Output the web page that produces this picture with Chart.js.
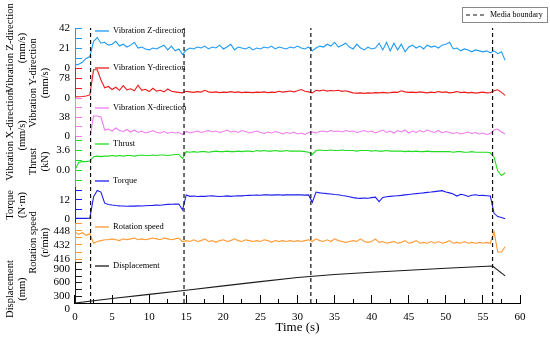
<!DOCTYPE html>
<html lang="en">
<head>
<meta charset="UTF-8">
<title>Drilling signals vs time</title>
<style>
  html, body { margin: 0; padding: 0; background: #fff; }
</style>
</head>
<body>
<canvas id="chart" width="550" height="340"></canvas>
<script src="https://cdn.jsdelivr.net/npm/chart.js"></script>
<script>
// sample times (s) shared by the signal series
const time = [
  0, 0.5, 1, 1.5, 2, 2.5, 3, 3.5, 4, 4.5,
  5, 5.5, 6, 6.5, 7, 7.5, 8, 8.5, 9, 9.5,
  10, 10.5, 11, 11.5, 12, 12.5, 13, 13.5, 14, 14.5,
  15, 15.5, 16, 16.5, 17, 17.5, 18, 18.5, 19, 19.5,
  20, 20.5, 21, 21.5, 22, 22.5, 23, 23.5, 24, 24.5,
  25, 25.5, 26, 26.5, 27, 27.5, 28, 28.5, 29, 29.5,
  30, 30.5, 31, 31.5, 32, 32.5, 33, 33.5, 34, 34.5,
  35, 35.5, 36, 36.5, 37, 37.5, 38, 38.5, 39, 39.5,
  40, 40.5, 41, 41.5, 42, 42.5, 43, 43.5, 44, 44.5,
  45, 45.5, 46, 46.5, 47, 47.5, 48, 48.5, 49, 49.5,
  50, 50.5, 51, 51.5, 52, 52.5, 53, 53.5, 54, 54.5,
  55, 55.5, 56, 56.5, 57, 57.5, 58
];

// vibration Z (mm/s)
const vibZ = [
  3, 4, 6, 10, 12, 28, 32, 26, 27, 24,
  25, 28, 23, 25, 22, 24, 27, 21, 22, 20,
  19, 21, 20, 22, 24, 19, 23, 18, 20, 14,
  19, 21, 20, 22, 21, 23, 20, 22, 21, 24,
  20, 22, 25, 19, 22, 21, 20, 22, 19, 21,
  20, 22, 21, 23, 20, 22, 21, 20, 22, 21,
  23, 21, 20, 22, 18, 21, 23, 22, 25, 23,
  27, 22, 24, 26, 22, 20, 25, 21, 19, 22,
  20, 21, 26, 19, 27, 18, 26, 19, 25, 17,
  22, 24, 21, 23, 20, 24, 22, 23, 21, 24,
  25, 27, 20, 21, 18, 20, 19, 17, 19, 18,
  17, 18, 16, 18, 15, 17, 8
];

// vibration Y (mm/s)
const vibY = [
  5, 5, 6, 8, 12, 110, 110, 70, 40, 45,
  33, 42, 30, 48, 32, 36, 28, 50, 30, 34,
  25, 38, 27, 30, 24, 35, 26, 24, 22, 20,
  26, 24, 22, 25, 23, 30, 24, 22, 24, 21,
  23, 22, 25, 22, 24, 21, 23, 22, 21, 23,
  22, 24, 21, 23, 22, 26, 23, 25, 27, 24,
  28, 33, 26, 24, 20, 30, 28, 31, 27, 29,
  28, 30, 26, 28, 24, 20, 19, 20, 18, 20,
  19, 21, 20, 22, 20, 21, 23, 22, 28, 24,
  22, 23, 21, 24, 22, 20, 23, 21, 25, 22,
  24, 20, 22, 25, 21, 23, 20, 22, 19, 21,
  23, 20, 21, 28, 32, 22, 10
];

// vibration X (mm/s)
const vibX = [
  -12, -11, -9, -7, -4, 40, 40, 38, 12, 14,
  10, 16, 11, 9, 13, 8, 12, 7, 10, 6,
  8, 11, 7, 6, 9, 5, 8, 6, 7, 3,
  9, 6, 8, 10, 7, 9, 11, 8, 10, 7,
  9, 12, 8, 10, 7, 11, 9, 6, 8, 10,
  7, 5, 8, 6, 9, 7, 4, 7, 5, 8,
  4, 6, 3, 7, 8, 6, 9, 10, 8, 11,
  9, 10, 8, 11, 9, 10, 7, 9, 11, 8,
  10, 6, 9, 12, 7, 10, 6, 11, 8, 12,
  6, 10, 7, 11, 8, 12, 9, 7, 11, 6,
  9, 7, 5, 7, 4, 6, 8, 5, 7, 4,
  6, 3, 5, 12, 14, 8, 4
];

// thrust (kN)
const thrust = [
  0, 1.4, 1.5, 1.5, 1.6, 2.4, 2.5, 2.4, 2.5, 2.5,
  2.6, 2.5, 2.6, 2.5, 2.6, 2.6, 2.5, 2.6, 2.7, 2.6,
  2.6, 2.7, 2.6, 2.7, 2.7, 2.6, 2.7, 2.8, 2.8, 2.1,
  3.3, 3.2, 3.3, 3.2, 3.3, 3.3, 3.2, 3.3, 3.4, 3.3,
  3.3, 3.4, 3.3, 3.3, 3.4, 3.3, 3.4, 3.4, 3.3, 3.5,
  3.4, 3.5, 3.4, 3.4, 3.5, 3.4, 3.4, 3.5, 3.4, 3.4,
  3.4, 3.4, 3.3, 3.2, 2.8, 3.5, 3.6, 3.5, 3.5, 3.6,
  3.5, 3.5, 3.6, 3.5, 3.5, 3.5, 3.4, 3.5, 3.5, 3.5,
  3.4, 3.5, 3.4, 3.4, 3.5, 3.4, 3.4, 3.4, 3.4, 3.3,
  3.4, 3.3, 3.4, 3.3, 3.3, 3.4, 3.3, 3.3, 3.3, 3.3,
  3.3, 3.3, 3.2, 3.3, 3.3, 3.2, 3.2, 3.3, 3.2, 3.2,
  3.2, 3.2, 3.1, 2.3, -0.2, -1.0, -0.5
];

// torque (N·m)
const torque = [
  0.4, 0.4, 0.4, 0.4, 0.5, 14, 18, 17, 10, 9.2,
  8.8, 8.5, 8.3, 8.2, 8.0, 8.2, 8.1, 8.3, 8.2, 8.4,
  8.5, 8.6, 8.8, 8.7, 9.0, 9.2, 9.3, 9.4, 9.5, 5.7,
  15.2, 14.3, 14.5, 14.2, 14.4, 14.3, 14.5, 14.6, 14.4, 14.2,
  14.4, 14.6, 14.3, 14.5, 14.7, 14.6, 14.8, 14.9, 15.0, 15.1,
  15.0, 15.2, 15.3, 15.1, 15.2, 15.3, 15.1, 15.2, 15.3, 15.2,
  15.3, 15.2, 15.1, 15.2, 10.5, 17.0, 16.5, 16.3, 16.0, 15.8,
  15.5, 15.3, 14.8, 14.5, 14.0, 13.5, 13.2, 13.0, 13.3, 13.1,
  13.5, 13.8, 11.0, 13.6, 14.0, 14.3, 14.5, 14.7, 14.9, 15.2,
  15.5, 15.8, 16.0, 16.3, 16.5, 16.8, 17.0, 17.3, 17.6, 17.9,
  17.0, 16.5, 15.8, 14.5, 15.6, 15.2, 14.2, 15.0, 15.3, 14.8,
  14.9, 14.7, 14.5, 3.6, 1.5, 1.0, 0.2
];

// rotation speed (r/min)
const rotation = [
  447, 444, 446, 443, 445, 434, 436, 437, 438, 438,
  439, 438, 437, 439, 438, 439, 440, 438, 439, 438,
  439, 440, 439, 438, 440, 439, 438, 439, 440, 435.8,
  437, 436, 438, 436, 437, 439, 436, 437, 435, 437,
  438, 436, 437, 439, 437, 436, 438, 437, 436, 437,
  436, 438, 437, 435, 437, 436, 437, 436, 437, 436,
  437, 436, 437, 438, 436, 439, 437, 436, 438, 436,
  439, 437, 436, 435, 436, 437, 436, 439, 436, 435,
  436, 439, 435, 436, 434, 435, 436, 434, 435, 437,
  434, 435, 437, 434, 435, 434, 436, 434, 436, 434,
  435, 437, 434, 435, 434, 436, 434, 435, 434, 435,
  434, 435, 434, 447, 424, 424, 430
];

// displacement (mm), sampled more coarsely
const dispTime = [0, 5, 10, 15, 20, 25, 30, 35, 40, 45, 50, 56.3, 58];
const displacement = [0, 100, 195, 285, 385, 480, 575, 640, 690, 735, 780, 832, 610];

// media boundaries (s)
const boundaries = [2.1, 14.7, 31.8, 56.3];

// tick values and their labels for each panel axis
const zTicks = [0, 10.5, 21, 31.5, 42];          const zTickText = ['0', '', '21', '', '42'];
const yTicks = [0, 39, 78, 117];                 const yTickText = ['0', '', '78', ''];
const xTicks = [0, 19, 38, 57, 76];              const xTickText = ['0', '', '38', '', ''];
const thrustTicks = [-1.8, 0, 1.8, 3.6, 5.4];    const thrustTickText = ['', '0.0', '', '3.6', ''];
const torqueTicks = [0, 6, 12, 18];              const torqueTickText = ['0', '', '12', ''];
const rotTicks = [416, 424, 432, 440, 448, 456]; const rotTickText = ['416', '', '432', '', '448', ''];
const dispTicks = [0, 150, 300, 450, 600, 750, 900]; const dispTickText = ['0', '', '300', '', '600', '', '900'];

const serif = "'Liberation Serif', 'Times New Roman', serif";

// trailing spaces push a rotated title further down its panel
const lowerTitle = (lines, n) => lines.map(s => s + ' '.repeat(n));

// panels top to bottom
const panels = [
  { id: 'yZ', name: 'Vibration Z-direction', title: ['Vibration Z-direction', '(mm/s)'], color: '#1E9BF5',
    xs: time, ys: vibZ, min: 0, max: 42, weight: 40, ticks: zTicks, tickText: zTickText, col: 4, labelDy: 3 },
  { id: 'yY', name: 'Vibration Y-direction', title: ['Vibration Y-direction', '(mm/s)'], color: '#EE1C1C',
    xs: time, ys: vibY, min: 0, max: 117, weight: 30, ticks: yTicks, tickText: yTickText, col: 27, labelDy: 0 },
  { id: 'yX', name: 'Vibration X-direction', title: lowerTitle(['Vibration X-direction', '(mm/s)'], 14), color: '#F07CF0',
    xs: time, ys: vibX, min: 0, max: 76, weight: 38, ticks: xTicks, tickText: xTickText, col: 4, labelDy: 10 },
  { id: 'yT', name: 'Thrust', title: ['Thrust', '(kN)'], color: '#22DD22',
    xs: time, ys: thrust, min: -3.06, max: 6.12, weight: 51, ticks: thrustTicks, tickText: thrustTickText, col: 27, labelDy: 8 },
  { id: 'yQ', name: 'Torque', title: ['Torque', '(N·m)'], color: '#1C1CEE',
    xs: time, ys: torque, min: -2.53, max: 20.2, weight: 36, ticks: torqueTicks, tickText: torqueTickText, col: 4, labelDy: -6 },
  { id: 'yR', name: 'Rotation speed', title: ['Rotation speed', '(r/min)'], color: '#FF9933',
    xs: time, ys: rotation, min: 412.6, max: 457.1, weight: 39, ticks: rotTicks, tickText: rotTickText, col: 27, labelDy: 4 },
  { id: 'yD', name: 'Displacement', title: lowerTitle(['Displacement', '(mm)'], 5), color: '#1A1A1A',
    xs: dispTime, ys: displacement, min: 0, max: 922, weight: 41, ticks: dispTicks, tickText: dispTickText, col: 4, labelDy: 4, labelOffset: 6 }
];

function panelAxis(p, order) {
  return {
    type: 'linear',
    position: 'left',
    stack: 'panels',
    stackWeight: p.weight,
    weight: order,
    min: p.min,
    max: p.max,
    border: { display: true, color: p.color, width: 1 },
    grid: { drawOnChartArea: false, tickLength: -7, color: p.color, tickColor: p.color },
    ticks: {
      font: { family: serif, size: 11 },
      color: '#000',
      padding: 12,
      autoSkip: false,
      labelOffset: p.labelOffset || 0,
      callback: (v, i) => p.tickText[i]
    },
    afterBuildTicks: axis => { axis.ticks = p.ticks.map(v => ({ value: v })); },
    afterFit: axis => { axis.width = 75; },
    title: {
      display: true,
      text: p.title,
      color: '#000',
      font: { family: serif, size: 10.5, lineHeight: 1.15 },
      padding: { top: p.col, bottom: 0 }
    }
  };
}

const scales = {
  x: {
    type: 'linear',
    position: 'bottom',
    min: 0,
    max: 60,
    border: { color: '#000', width: 1 },
    grid: { drawOnChartArea: false, tickLength: -8, tickColor: '#000' },
    ticks: { stepSize: 5, font: { family: serif, size: 11 }, color: '#000', padding: 16, maxRotation: 0, autoSkip: false },
    title: { display: true, text: 'Time (s)', color: '#000', font: { family: serif, size: 13 }, padding: { top: 0, bottom: 5 } },
    afterFit: axis => { axis.height = 37; }
  },
  // minor ticks along the time axis
  xm: {
    type: 'linear',
    axis: 'x',
    position: { yD: 0 },
    min: 0,
    max: 60,
    border: { display: false },
    grid: { drawOnChartArea: false, tickLength: -4, tickColor: '#000' },
    ticks: { stepSize: 2.5, display: false }
  },
  // full-height helper axis for the boundary lines
  yb: { type: 'linear', position: 'right', min: 0, max: 1, display: false }
};
panels.forEach((p, i) => { scales[p.id] = panelAxis(p, panels.length - i); });

const datasets = [{
  label: 'Media boundary',
  data: boundaries.flatMap(t => [{ x: t, y: 0 }, { x: t, y: 1 }, { x: t, y: null }]),
  yAxisID: 'yb',
  borderColor: '#111',
  borderWidth: 1.2,
  borderDash: [4, 3],
  pointRadius: 0,
  spanGaps: false
}];
panels.forEach(p => {
  datasets.push({
    label: p.name,
    data: p.xs.map((x, i) => ({ x: x, y: p.ys[i] })),
    yAxisID: p.id,
    borderColor: p.color,
    borderWidth: 1.1,
    pointRadius: 0,
    tension: 0
  });
});

// inline panel labels and the boxed "Media boundary" key
const panelLabels = {
  id: 'panelLabels',
  afterDraw(chart) {
    const ctx = chart.ctx;
    const left = chart.chartArea.left;
    ctx.save();
    ctx.font = '8.5px ' + serif;
    ctx.textBaseline = 'middle';
    panels.forEach(p => {
      const y = chart.scales[p.id].top + p.labelDy;
      ctx.strokeStyle = p.color;
      ctx.lineWidth = 1.3;
      ctx.beginPath();
      ctx.moveTo(left + 20, y);
      ctx.lineTo(left + 34, y);
      ctx.stroke();
      ctx.fillStyle = '#000';
      ctx.fillText(p.name, left + 38, y);
    });

    ctx.strokeStyle = '#888';
    ctx.lineWidth = 1;
    ctx.strokeRect(462.5, 7.5, 85, 15);
    ctx.strokeStyle = '#111';
    ctx.lineWidth = 1.2;
    ctx.setLineDash([4, 3]);
    ctx.beginPath();
    ctx.moveTo(466, 15);
    ctx.lineTo(484, 15);
    ctx.stroke();
    ctx.setLineDash([]);
    ctx.font = '8px ' + serif;
    ctx.fillStyle = '#000';
    ctx.fillText('Media boundary', 490, 15);
    ctx.restore();
  }
};

new Chart(document.getElementById('chart'), {
  type: 'line',
  data: { datasets: datasets },
  options: {
    responsive: false,
    animation: false,
    layout: { padding: { left: 0, right: 30, top: 28, bottom: 0 } },
    plugins: { legend: { display: false }, tooltip: { enabled: false } },
    scales: scales
  },
  plugins: [panelLabels]
});
</script>
</body>
</html>
